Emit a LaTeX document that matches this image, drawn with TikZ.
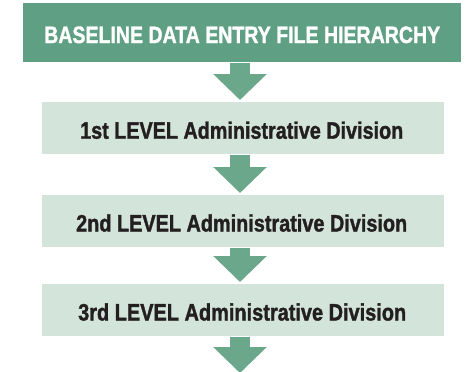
\documentclass[tikz,border=0pt]{standalone}
\usepackage{fontspec}
\setmainfont{Liberation Sans}
\newfontface\heavyface{Liberation Sans Bold}[FakeBold=1.6]
\usetikzlibrary{arrows.meta}
\definecolor{headgreen}{HTML}{5F9F83}
\definecolor{arrowgreen}{HTML}{6BA78B}
\definecolor{levelgreen}{HTML}{D3E4DA}
\definecolor{inkdark}{HTML}{231F20}
% set a heavy label stretched to a given width and height
\newcommand{\fitlabel}[3]{\resizebox{#1}{#2}{\heavyface #3}}
\tikzset{
  headbox/.style={fill=headgreen, draw=none, inner sep=0pt, text=white},
  levelbox/.style={fill=levelgreen, draw=none, inner sep=0pt, text=inkdark},
  flowarrow/.style={draw=arrowgreen, line width=20bp, line cap=butt,
    -{Triangle[width=52bp,length=26bp]}, shorten >=2bp, shorten <=1bp}
}
\begin{document}
\begin{tikzpicture}[x=1bp,y=-1bp]
  \useasboundingbox (0,0) rectangle (469,371);
  \clip (0,0) rectangle (469,371);
  % boxes
  \node[headbox, minimum width=438bp, minimum height=59bp, anchor=north west] (head) at (23,3) {};
  \node[levelbox, minimum width=402bp, minimum height=52bp, anchor=north west] (lvl1) at (42,102) {};
  \node[levelbox, minimum width=402bp, minimum height=52bp, anchor=north west] (lvl2) at (42,195) {};
  \node[levelbox, minimum width=402bp, minimum height=52bp, anchor=north west] (lvl3) at (42,284) {};
  % labels
  \node[anchor=base west, inner sep=0pt, text=white] (headtxt) at (44,43)
    {\fitlabel{396bp}{16.5bp}{BASELINE DATA ENTRY FILE HIERARCHY}};
  \node[anchor=base west, inner sep=0pt, text=inkdark] (lvl1txt) at (80,138.7)
    {\fitlabel{323bp}{17.2bp}{1st LEVEL Administrative Division}};
  \node[anchor=base west, inner sep=0pt, text=inkdark] (lvl2txt) at (76,231.5)
    {\fitlabel{331bp}{17.2bp}{2nd LEVEL Administrative Division}};
  \node[anchor=base west, inner sep=0pt, text=inkdark] (lvl3txt) at (78,320.5)
    {\fitlabel{328bp}{17.2bp}{3rd LEVEL Administrative Division}};
  % arrow column
  \coordinate (col) at (240,0);
  \coordinate (tail) at (240,373);
  \draw[flowarrow] (head.south -| col) -- (lvl1.north -| col);
  \draw[flowarrow] (lvl1.south -| col) -- (lvl2.north -| col);
  \draw[flowarrow] (lvl2.south -| col) -- (lvl3.north -| col);
  \draw[flowarrow, shorten >=0bp] (lvl3.south -| col) -- (tail);
\end{tikzpicture}
\end{document}
